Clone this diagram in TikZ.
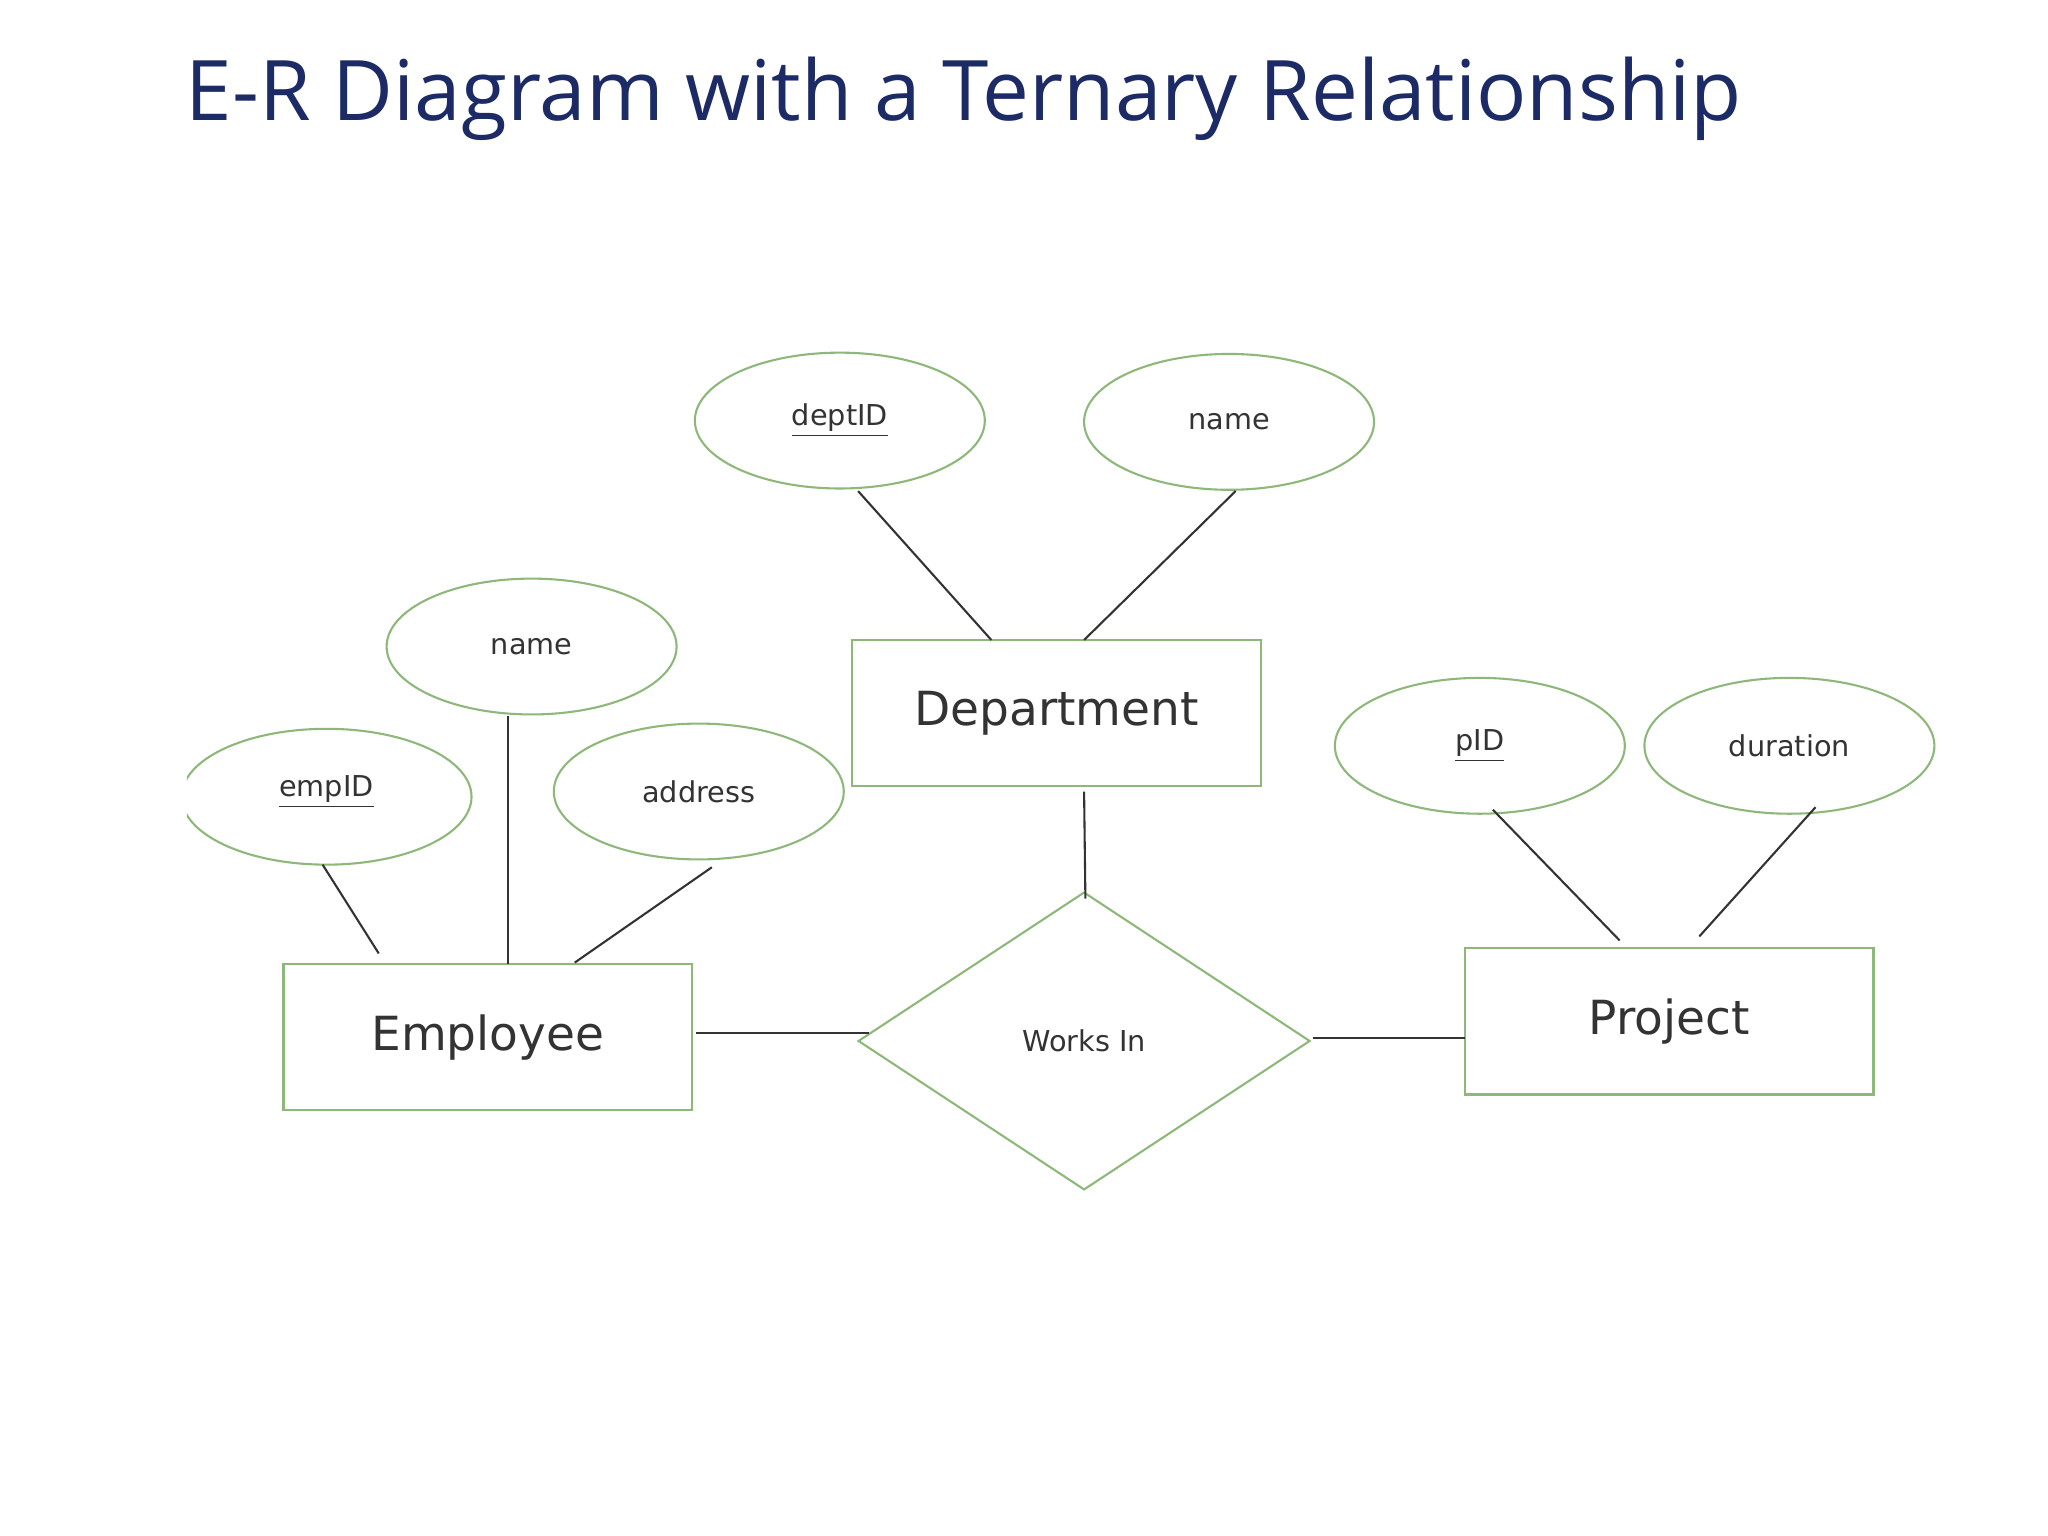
\documentclass[tikz,border=0pt]{standalone}
\usepackage{fontspec}
\setmainfont{DejaVu Sans}
\newfontfamily\titlefont{Open Sans}
\usetikzlibrary{shapes.geometric}
\definecolor{grn}{HTML}{8DB87A}
\definecolor{navy}{HTML}{1C2B66}
\definecolor{txt}{HTML}{333333}
\begin{document}
\begin{tikzpicture}[x=0.5pt,y=-0.5pt,
  attr/.style={ellipse,draw=grn,line width=0.8pt,minimum width=111pt,minimum height=52pt,inner sep=0pt,text=txt,font=\fontsize{11}{13}\selectfont},
  ent/.style={rectangle,draw=grn,line width=0.9pt,minimum width=156.5pt,minimum height=56pt,text=txt,font=\fontsize{18}{22}\selectfont},
  rel/.style={diamond,draw=grn,line width=0.8pt,minimum width=173pt,minimum height=114pt,inner sep=0pt,text=txt,font=\fontsize{11}{13}\selectfont},
  ln/.style={line width=0.8pt,draw=black!80}]
\useasboundingbox (0,0) rectangle (1568,1176);
\fill[white] (0,0) rectangle (1568,1176);
\node[anchor=base west,text=navy,font=\titlefont\fontsize{32}{38}\selectfont,inner sep=0pt] (title) at (142,92) {E-R Diagram with a Ternary Relationship};
\begin{scope}
\clip (143,0) rectangle (1568,1176);
\node[attr] (empID) at (250,610) {\raisebox{0pt}[0pt][0pt]{\underline{empID}}\vphantom{}};
\end{scope}
\node[attr] (deptID) at (643,322) {\underline{deptID}};
\node[attr] (dname) at (941,323) {name};
\node[attr] (ename) at (407,495) {name};
\node[attr] (addr) at (535,606) {address};
\node[attr] (pID) at (1133,571) {\underline{pID}};
\node[attr] (dur) at (1370,571) {duration};
\node[ent] (dept) at (809,546) {Department};
\node[ent] (emp) at (373.5,794) {Employee};
\node[ent] (proj) at (1278,782) {Project};
\node[rel] (works) at (830,797) {Works In};
\coordinate (a1) at (657,376); \coordinate (b1) at (759,490);
\coordinate (a2) at (946,376); \coordinate (b2) at (830,490);
\coordinate (a3) at (830,606); \coordinate (b3) at (831,688);
\coordinate (a4) at (389,548); \coordinate (b4) at (389,738);
\coordinate (a5) at (247,662); \coordinate (b5) at (290,730);
\coordinate (a6) at (545,664); \coordinate (b6) at (440,737);
\coordinate (a7) at (533,791); \coordinate (b7) at (665,791);
\coordinate (a8) at (1005,795); \coordinate (b8) at (1122,795);
\coordinate (a9) at (1143,620); \coordinate (b9) at (1240,720);
\coordinate (a10) at (1390,618); \coordinate (b10) at (1301,717);
\foreach \i in {1,...,10} \draw[ln] (a\i) -- (b\i);
\end{tikzpicture}
\end{document}
